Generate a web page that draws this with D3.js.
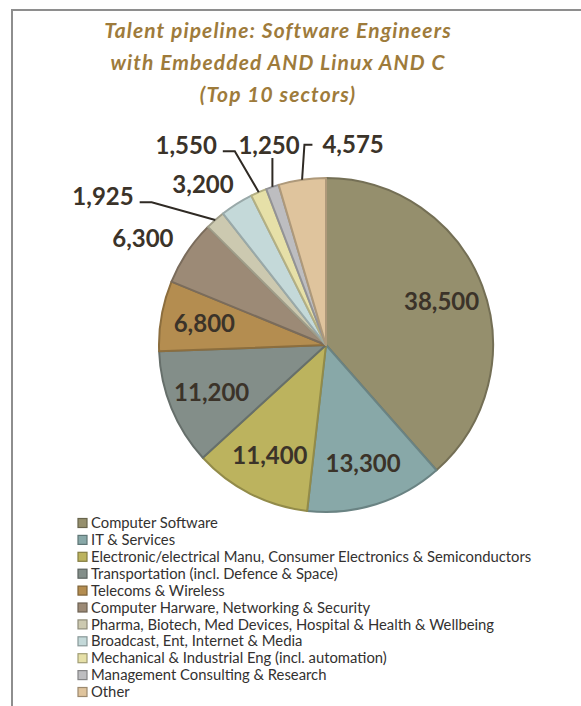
<!DOCTYPE html>
<html lang="en">
<head>
    <meta charset="UTF-8">
    <title>Talent pipeline pie</title>
    <script src="https://d3js.org/d3.v7.min.js"></script>
    <style>
        body { margin: 0; background: #fff; }
        svg text { font-family: "Lato", "Open Sans", sans-serif; }
    </style>
</head>
<body>
    <div id="chart"></div>

    <script>
        // Data
        const sectors = [
            "Computer Software",
            "IT & Services",
            "Electronic/electrical Manu, Consumer Electronics & Semiconductors",
            "Transportation (incl. Defence & Space)",
            "Telecoms & Wireless",
            "Computer Harware, Networking & Security",
            "Pharma, Biotech, Med Devices, Hospital & Health & Wellbeing",
            "Broadcast, Ent, Internet & Media",
            "Mechanical & Industrial Eng (incl. automation)",
            "Management Consulting & Research",
            "Other"
        ];
        const engineers = [38500, 13300, 11400, 11200, 6800, 6300, 1925, 3200, 1550, 1250, 4575];
        const titleLines = [
            "Talent pipeline: Software Engineers",
            "with Embedded AND Linux AND C",
            "(Top 10 sectors)"
        ];

        const colors = ["#958f6d", "#88a8a8", "#bcb35e", "#838e89", "#b48d50", "#9c8a76",
                        "#ccc9b0", "#c4d9d9", "#e6e0a8", "#bdbdc0", "#dfc49d"];

        // label placement for slices whose label sits outside (angle in degrees, radius as fraction of R)
        const outside = {
            5: { angle: 300.3, r: 1.27 },
            6: { angle: 303.7, r: 1.605, leader: "left", dy: 6 },
            7: { angle: 322.5, r: 1.21 },
            8: { angle: 325.0, r: 1.46, leader: "left", dy: 6 },
            9: { angle: 344.1, r: 1.245, leader: "down" },
            10: { angle: 7.7, r: 1.21, leader: "right", dy: 0 }
        };

        const W = 581, H = 706;
        const cx = 326, cy = 345, R = 167;

        const svg = d3.select("#chart").append("svg")
            .attr("width", W)
            .attr("height", H);

        // chart frame
        svg.append("rect")
            .attr("x", 12).attr("y", 10)
            .attr("width", 700).attr("height", 740)
            .attr("fill", "none")
            .attr("stroke", "#8e8e8e")
            .attr("stroke-width", 2);

        // title
        svg.append("g")
            .selectAll("text")
            .data(titleLines)
            .join("text")
            .attr("x", 278)
            .attr("y", (d, i) => 38 + i * 32)
            .attr("text-anchor", "middle")
            .attr("font-size", "21px")
            .attr("letter-spacing", "1.1px")
            .attr("font-weight", "bold")
            .attr("font-style", "italic")
            .attr("fill", "#9e7b3b")
            .text(d => d);

        const pie = d3.pie().sort(null).value(d => d);
        const arcs = pie(engineers);
        const arc = d3.arc().innerRadius(0).outerRadius(R);
        const edge = d3.arc().innerRadius(R).outerRadius(R);

        const g = svg.append("g").attr("transform", `translate(${cx},${cy})`);

        g.selectAll("path")
            .data(arcs)
            .join("path")
            .attr("d", arc)
            .attr("fill", (d, i) => colors[i])
            .attr("stroke", (d, i) => d3.color(colors[i]).darker(0.7))
            .attr("stroke-width", 2)
            .attr("stroke-linejoin", "round");

        const fmt = d3.format(",");
        const polar = (deg, r) => {
            const a = deg * Math.PI / 180;
            return [Math.sin(a) * r, -Math.cos(a) * r];
        };

        const labels = g.append("g");
        arcs.forEach((d, i) => {
            let x, y;
            const o = outside[i];
            if (o) {
                [x, y] = polar(o.angle, o.r * R);
            } else {
                const mid = (d.startAngle + d.endAngle) / 2 * 180 / Math.PI;
                [x, y] = polar(mid, R * 0.74);
            }
            const t = labels.append("text")
                .attr("x", x)
                .attr("y", y)
                .attr("dy", "0.36em")
                .attr("text-anchor", "middle")
                .attr("font-size", "24px")
                .attr("font-weight", "bold")
                .attr("fill", "#3b3329")
                .text(fmt(d.value));

            if (o && o.leader) {
                const half = t.node().getComputedTextLength() / 2;
                const [ex, ey] = edge.centroid(d);
                let pts;
                if (o.leader === "left") {
                    const endX = x + half + 6, endY = y + o.dy;
                    pts = [[ex, ey], [endX + 12, endY], [endX, endY]];
                } else if (o.leader === "right") {
                    const endX = x - half - 10, endY = y + o.dy;
                    pts = [[ex, ey], [endX - 8, endY], [endX, endY]];
                } else {
                    pts = [[ex, ey], [ex, y + 13]];
                }
                labels.append("path")
                    .attr("d", d3.line()(pts))
                    .attr("fill", "none")
                    .attr("stroke", "#2f2a24")
                    .attr("stroke-width", 2);
            }
        });

        // legend
        const legend = svg.append("g")
            .selectAll("g")
            .data(sectors)
            .join("g")
            .attr("transform", (d, i) => `translate(78,${523 + i * 16.9})`);

        legend.append("rect")
            .attr("x", 0).attr("y", -4.5)
            .attr("width", 9).attr("height", 9)
            .attr("fill", (d, i) => colors[i])
            .attr("stroke", (d, i) => d3.color(colors[i]).darker(1))
            .attr("stroke-width", 1.2);

        legend.append("text")
            .attr("x", 13)
            .attr("y", 0)
            .attr("dy", "0.35em")
            .attr("font-size", "14.8px")
            .attr("fill", "#333130")
            .text(d => d);
    </script>
</body>
</html>
